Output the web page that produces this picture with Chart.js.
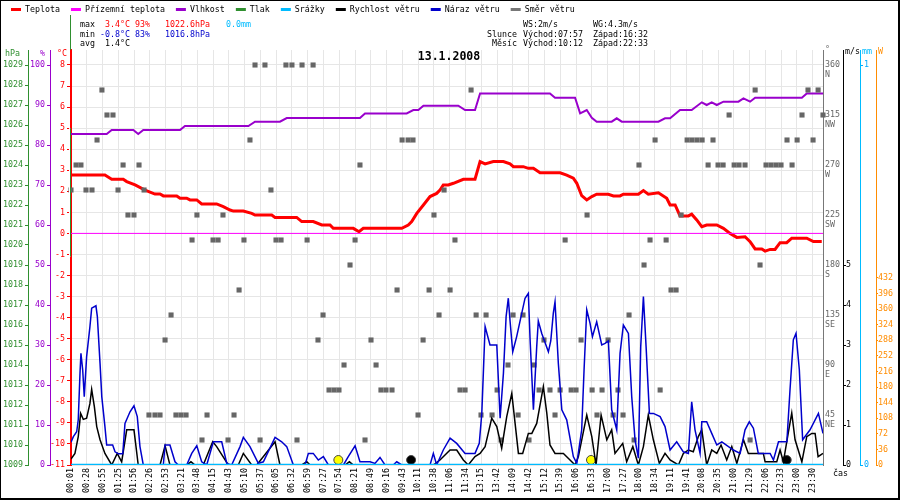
<!DOCTYPE html>
<html>
<head>
<meta charset="utf-8">
<title>13.1.2008</title>
<script src="https://cdn.jsdelivr.net/npm/chart.js@4.4.1/dist/chart.umd.min.js"></script>
<style>
  html, body { margin: 0; padding: 0; background: #fff; }
  canvas { display: block; }
</style>
</head>
<body>
<canvas id="meteo" width="900" height="500"></canvas>
<script>
// ================= DATA =================
// x values are in label slots: 0 = "00:01", 1 = "00:28", ...
const timeLabels = ['00:01','00:28','00:55','01:25','01:56','02:26','02:53','03:21','03:48','04:15','04:43','05:10','05:37','06:05','06:32','06:59','07:27','07:54','08:21','08:49','09:16','09:43','10:11','10:38','11:06','11:34','13:15','13:42','14:09','14:42','15:12','15:39','16:06','16:33','17:00','17:27','18:00','18:34','19:11','19:41','20:08','20:35','21:00','21:29','22:06','22:33','23:00','23:30'];
const lastSlot = 47.65;

// Teplota (°C)
const tempX = [0,2.15,2.58,3.31,3.53,4.06,4.69,5.32,5.64,5.85,6.70,6.91,7.33,7.54,7.97,8.28,9.23,9.65,10.08,10.29,10.92,11.45,11.66,12.72,12.93,14.30,14.62,15.35,15.89,16.41,16.62,17.89,18.25,18.52,20.96,21.37,21.59,21.91,22.33,22.75,23.17,23.38,23.59,23.91,24.23,24.86,25.60,25.92,26.24,26.76,27.40,27.82,28.03,28.66,28.98,29.30,29.72,30.99,31.41,31.83,32.05,32.36,32.68,33.00,33.31,34.05,34.37,34.79,35.00,35.95,36.27,36.58,37.22,37.75,37.96,38.28,38.59,39.12,39.33,39.65,39.97,40.28,40.92,41.34,41.76,42.19,42.71,43.03,43.35,43.77,43.98,44.30,44.61,44.93,45.35,45.67,46.62,47.04,47.57];
const tempY = [2.77,2.77,2.57,2.57,2.46,2.30,2.06,1.87,1.87,1.78,1.78,1.67,1.67,1.59,1.59,1.40,1.40,1.27,1.11,1.06,1.06,0.95,0.87,0.87,0.76,0.76,0.56,0.56,0.40,0.40,0.24,0.24,0.08,0.24,0.24,0.40,0.56,0.95,1.35,1.75,1.90,2.06,2.30,2.30,2.38,2.57,2.57,3.41,3.30,3.41,3.41,3.30,3.17,3.17,3.09,3.09,2.88,2.88,2.77,2.62,2.38,1.79,1.59,1.75,1.86,1.86,1.78,1.78,1.86,1.86,2.03,1.86,1.93,1.67,1.35,1.35,0.83,0.83,0.91,0.64,0.32,0.40,0.40,0.24,0.00,-0.19,-0.16,-0.39,-0.74,-0.74,-0.84,-0.76,-0.76,-0.44,-0.44,-0.23,-0.23,-0.39,-0.39];

// Přízemní teplota (°C)
const groundX = [0, lastSlot];
const groundY = [0, 0];

// Vlhkost (%)
const humX = [0,2.26,2.58,3.95,4.26,4.58,6.91,7.22,11.24,11.66,13.24,13.67,18.31,18.63,21.27,21.69,22.01,22.33,24.54,24.97,25.60,25.92,30.35,30.67,31.94,32.26,32.68,33.00,33.31,34.26,34.58,34.90,37.22,37.64,37.96,38.59,39.33,39.97,40.28,40.60,40.92,41.34,42.29,42.61,43.03,43.35,46.31,46.62,47.65];
const humY = [82.75,82.75,83.75,83.75,82.75,83.75,83.75,84.75,84.75,85.83,85.83,86.75,86.75,87.9,87.9,88.75,88.75,89.83,89.83,88.75,88.75,92.9,92.9,91.83,91.83,87.9,88.75,86.8,85.83,85.83,86.67,85.83,85.83,86.67,86.67,88.75,88.75,90.67,90.0,90.67,90.0,90.83,90.83,91.67,90.83,91.83,91.83,92.9,92.9];

// Srážky (mm)
const rainX = [0, lastSlot];
const rainY = [0, 0];

// Rychlost větru (m/s)
const windX = [0,0.25,0.46,0.61,0.78,0.99,1.20,1.31,1.48,1.63,1.84,2.15,2.58,2.93,3.21,3.53,3.99,4.26,5.64,5.96,6.27,7.33,7.60,7.86,8.38,8.98,9.23,9.97,10.60,10.92,11.45,11.77,12.93,13.24,14.62,14.94,15.15,17.36,17.64,17.89,22.96,23.38,24.02,24.44,24.86,25.17,25.60,25.92,26.24,26.66,26.98,27.29,27.61,27.93,28.14,28.35,28.62,28.98,29.20,29.51,29.93,30.15,30.35,30.67,31.20,31.62,31.94,32.15,32.68,33.00,33.27,33.59,33.95,34.26,34.47,34.96,35.21,35.60,35.95,36.27,36.58,36.90,37.28,37.64,37.96,38.49,38.80,39.12,39.43,39.75,39.97,40.28,40.60,40.92,41.19,41.55,41.87,42.19,42.61,42.92,43.87,43.98,44.72,44.93,45.14,45.46,45.67,45.88,46.31,46.62,46.94,47.15,47.34,47.65];
const windY = [0.15,0.29,0.71,1.29,1.14,1.17,1.54,1.89,1.46,0.96,0.63,0.29,0,0.29,0.08,0.88,0.88,0,0,0.48,0,0,0.08,0,0,0.58,0.46,0,0,0.29,0,0,0.58,0,0,0.08,0,0,0.08,0,0,0.125,0.375,0.375,0.125,0,0.21,0.29,0.46,1.17,0.96,0.42,1.21,1.79,1.04,0.29,0.29,0.79,0.79,1.04,1.96,1.29,0.5,0.29,0.29,0.125,0,0.21,1.25,0.71,0,1.25,0.63,0.88,0.29,0.54,0.08,0.46,0,0.46,1.25,0.63,0.04,0.29,0.125,0,0.29,0.375,0.33,0.71,0.88,0,0.375,0.29,0.5,0.125,0.46,0.04,0.63,0.29,0.29,0.08,0.08,0.375,0.08,0.83,1.3,0.63,0.08,0.71,0.79,0.79,0.21,0.29];

// Náraz větru (m/s)
const gustX = [0,0.15,0.36,0.46,0.57,0.63,0.74,0.84,0.99,1.20,1.31,1.58,1.67,1.84,1.95,2.15,2.26,2.64,2.79,3.00,3.28,3.42,3.74,3.99,4.20,4.37,4.58,5.85,5.96,6.27,6.59,6.80,7.33,7.65,7.97,8.28,8.60,9.02,9.55,9.87,10.18,10.71,10.92,11.34,11.87,12.19,12.93,13.35,13.67,14.09,14.83,15.04,15.35,15.67,15.99,16.31,17.26,17.57,18.00,18.31,18.95,19.26,19.58,19.90,20.42,20.64,20.96,22.75,22.96,23.17,23.59,24.02,24.44,24.97,25.60,25.87,26.03,26.24,26.55,26.98,27.19,27.40,27.57,27.71,27.82,27.99,28.24,28.56,28.77,28.98,29.09,29.30,29.51,29.61,29.83,30.25,30.40,30.56,30.67,30.88,31.10,31.41,31.83,32.05,32.36,32.51,32.68,32.89,33.04,33.31,33.63,33.84,34.05,34.26,34.58,34.79,35.00,35.32,35.53,35.74,35.95,36.10,36.27,36.44,36.65,36.90,37.33,37.64,37.96,38.38,38.80,39.12,39.33,39.54,39.86,39.97,40.28,40.60,40.92,41.24,41.97,42.40,42.71,42.98,43.24,43.55,44.30,44.51,44.83,45.36,45.56,45.77,45.94,46.15,46.36,46.83,47.36,47.65];
const gustY = [0.57,0.71,0.83,1.13,2.29,2.79,2.38,1.71,2.71,3.46,3.92,3.98,3.71,2.54,1.71,0.96,0.5,0.5,0.33,0.28,0.28,1.04,1.33,1.48,1.21,0.46,0,0,0.5,0.5,0.08,0,0,0.29,0.48,0.08,0,0.58,0.58,0.04,0,0.46,0.69,0.46,0.04,0.08,0.69,0.58,0.46,0,0,0.29,0.29,0.125,0.21,0,0,0.21,0.48,0.08,0.08,0.04,0.19,0,0,0.08,0,0,0.29,0,0.375,0.67,0.54,0.29,0.29,0.54,1.29,3.46,3.0,3.0,1.17,2.29,3.71,4.17,3.6,2.83,3.21,3.79,4.17,4.29,3.13,1.38,2.96,3.6,3.29,2.83,3.1,3.79,4.08,2.54,1.38,1.13,0.21,0.04,0.88,2.38,3.88,3.54,3.21,3.58,3.0,3.04,3.1,1.38,0.88,2.79,3.5,3.29,1.71,0.63,0.17,2.96,4.21,2.96,1.29,1.29,1.21,0.96,0.375,0.58,0.33,0.29,1.58,0.88,0.29,1.08,1.08,0.79,0.5,0.58,0.375,0.29,0.88,1.08,0.92,0.29,0.29,0.125,0.58,0.58,1.88,3.13,3.29,2.38,0.63,0.88,1.29,0.79];

// Směr větru (°)
const dirX = [0.00,0.32,0.63,0.95,1.33,1.65,1.96,2.28,2.66,2.98,3.30,3.61,3.99,4.31,4.63,4.94,5.32,5.64,5.96,6.34,6.65,6.97,7.29,7.67,7.98,8.30,8.62,9.00,9.32,9.63,9.95,10.33,10.65,10.96,11.34,11.66,11.98,12.29,12.67,12.99,13.31,13.62,14.00,14.32,14.64,14.96,15.34,15.65,15.97,16.35,16.67,16.98,17.30,17.68,18.00,18.31,18.63,19.01,19.33,19.64,19.96,20.34,20.66,20.98,21.36,21.67,21.99,22.31,22.69,23.00,23.32,23.64,24.02,24.33,24.65,24.97,25.35,25.67,25.98,26.30,26.68,27.00,27.25,27.69,28.01,28.33,28.64,29.02,29.34,29.66,29.97,30.35,30.67,30.99,31.31,31.69,32.00,32.32,32.70,33.02,33.33,33.65,34.03,34.35,34.66,34.98,35.36,35.68,35.99,36.31,36.69,37.01,37.33,37.71,38.02,38.34,38.66,39.04,39.35,39.67,39.99,40.37,40.68,41.00,41.32,41.70,42.02,42.33,42.71,43.03,43.35,43.66,44.04,44.36,44.68,44.99,45.37,45.69,46.01,46.32,46.70,47.02,47.34,47.65];
const dirY = [247.5,270,270,247.5,247.5,292.5,337.5,315,315,247.5,270,225,225,270,247.5,45,45,45,112.5,135,45,45,45,202.5,225,22.5,45,202.5,202.5,225,22.5,45,157.5,202.5,292.5,360,22.5,360,247.5,202.5,202.5,360,360,22.5,360,202.5,360,112.5,135,67.5,67.5,67.5,90,180,202.5,270,22.5,112.5,90,67.5,67.5,67.5,157.5,292.5,292.5,292.5,45,112.5,157.5,225,135,247.5,157.5,202.5,67.5,67.5,337.5,135,45,135,45,67.5,22.5,90,135,45,135,22.5,90,67.5,112.5,67.5,45,67.5,202.5,67.5,67.5,112.5,225,67.5,45,67.5,112.5,45,67.5,45,135,22.5,270,180,202.5,292.5,67.5,202.5,157.5,157.5,225,292.5,292.5,292.5,292.5,270,292.5,270,270,315,270,270,270,22.5,337.5,180,270,270,270,270,292.5,270,292.5,315,337.5,292.5,337.5,315];

// sunrise / moonrise / sunset / moonset markers
const eventX = [16.94, 21.55, 32.95, 45.35];
const eventY = [0.125, 0.125, 0.125, 0.125];
const eventColors = ['#ffff00', '#000000', '#ffff00', '#000000'];

const compassValues = [45, 90, 135, 180, 225, 270, 315, 360];
const compassNames = ['NE', 'E', 'SE', 'S', 'SW', 'W', 'NW', 'N'];

const legendLabels = ['Teplota', 'Přízemní teplota', 'Vlhkost', 'Tlak', 'Srážky', 'Rychlost větru', 'Náraz větru', 'Směr větru'];
const legendColors = ['#ff0000', '#ff00ff', '#9900cc', '#2f8f2f', '#00bbff', '#000000', '#0000cc', '#777777'];

// ================= STYLE =================
const FAMILY = '"DejaVu Sans Mono", "Liberation Mono", monospace';
const SMALL = '8.3px ' + FAMILY;
const GRID = '#e6e6e6';

Chart.defaults.font.family = FAMILY;
Chart.defaults.font.size = 8.3;
Chart.defaults.color = '#000';

function pts(xs, ys) {
    return xs.map((x, i) => ({ x, y: ys[i] }));
}

function fixWidth(w) {
    return s => { s.width = w; };
}

function sideAxis(position, weight, width, min, max, step, color, opts = {}) {
    return {
        type: 'linear',
        position,
        weight,
        min,
        max,
        afterFit: fixWidth(width),
        ticks: Object.assign({
            stepSize: step,
            includeBounds: false,
            color,
            padding: 1,
            font: { size: 8.3 },
            callback: v => String(v)
        }, opts.ticks || {}),
        grid: Object.assign({
            drawOnChartArea: false,
            drawTicks: true,
            tickLength: 3,
            tickColor: color
        }, opts.grid || {}),
        border: { display: true, color: opts.borderColor || color, width: opts.borderWidth || 1 }
    };
}

// ================= DECORATION (legend, header, axis units) =================
function put(ctx, text, x, y, color, align) {
    ctx.fillStyle = color;
    ctx.textAlign = align || 'left';
    ctx.fillText(text, x, y);
}

const decorPlugin = {
    id: 'decor',
    afterDraw(chart) {
        const { ctx, chartArea: area, scales } = chart;
        ctx.save();
        ctx.font = SMALL;
        ctx.textBaseline = 'middle';

        // legend
        let lx = 11;
        legendLabels.forEach((label, i) => {
            ctx.fillStyle = legendColors[i];
            ctx.fillRect(lx, 8, 10, 3);
            put(ctx, label, lx + 14, 9.5, '#000');
            lx += 14 + ctx.measureText(label).width + 11;
        });

        // statistics
        put(ctx, 'max', 80, 25, '#000');
        put(ctx, '3.4°C', 105, 25, '#ff0000');
        put(ctx, '93%', 135, 25, '#ff0000');
        put(ctx, '1022.6hPa', 165, 25, '#ff0000');
        put(ctx, '0.0mm', 226, 25, '#00bbff');
        put(ctx, 'min', 80, 34.5, '#000');
        put(ctx, '-0.8°C', 100, 34.5, '#0000cc');
        put(ctx, '83%', 135, 34.5, '#0000cc');
        put(ctx, '1016.8hPa', 165, 34.5, '#0000cc');
        put(ctx, 'avg', 80, 44, '#000');
        put(ctx, '1.4°C', 105, 44, '#000');

        put(ctx, 'WS:2m/s', 523, 25, '#000');
        put(ctx, 'WG:4.3m/s', 593, 25, '#000');
        put(ctx, 'Slunce', 517, 34.5, '#000', 'right');
        put(ctx, 'Východ:07:57', 523, 34.5, '#000');
        put(ctx, 'Západ:16:32', 593, 34.5, '#000');
        put(ctx, 'Měsíc', 517, 44, '#000', 'right');
        put(ctx, 'Východ:10:12', 523, 44, '#000');
        put(ctx, 'Západ:22:33', 593, 44, '#000');

        // axis units
        put(ctx, 'hPa', 5, 54, '#2f8f2f');
        put(ctx, '%', 40, 54, '#9900cc');
        put(ctx, '°C', 57, 54, '#ff0000');
        put(ctx, '°', scales.yD.left + 2, 50, '#666');
        put(ctx, 'm/s', scales.yW.left + 2, 52, '#000');
        put(ctx, 'mm', scales.yR.left + 2, 52, '#00bbff');
        put(ctx, 'W', scales.yS.left + 2, 52, '#ff8c00');
        put(ctx, 'čas', 833, 474, '#000');

        // left edge of the plot: green up into the header and in the middle
        ctx.fillStyle = '#2f8f2f';
        ctx.fillRect(area.left - 1, 15, 1, area.top - 15);
        const g1 = scales.yT.getPixelForValue(5);
        const g2 = scales.yT.getPixelForValue(-1.1);
        ctx.fillStyle = '#fff';
        ctx.fillRect(area.left - 2, g1, 2, g2 - g1);
        ctx.fillStyle = '#2f8f2f';
        ctx.fillRect(area.left - 1, g1, 1, g2 - g1);

        // title
        ctx.font = 'bold 11.5px ' + FAMILY;
        put(ctx, '13.1.2008', 449, 57, '#000', 'center');

        // frame
        ctx.fillStyle = '#000';
        ctx.fillRect(0, 0, 900, 1);
        ctx.fillRect(0, 0, 1, 500);
        ctx.fillRect(898, 0, 2, 500);
        ctx.fillRect(0, 498, 900, 2);
        ctx.restore();
    }
};

// ================= CHART =================
const ctx = document.getElementById('meteo').getContext('2d');

new Chart(ctx, {
    type: 'line',
    data: {
        datasets: [
            { label: 'Srážky', data: pts(rainX, rainY), yAxisID: 'yR', borderColor: '#00bbff', borderWidth: 2.5, pointRadius: 0 },
            { label: 'Náraz větru', data: pts(gustX, gustY), yAxisID: 'yW', borderColor: '#0000cc', borderWidth: 1.5, pointRadius: 0 },
            { label: 'Rychlost větru', data: pts(windX, windY), yAxisID: 'yW', borderColor: '#000000', borderWidth: 1.5, pointRadius: 0 },
            { label: 'Směr větru', data: pts(dirX, dirY), yAxisID: 'yD', showLine: false, pointStyle: 'rect', pointRadius: 3.6, pointBackgroundColor: '#666666', pointBorderWidth: 0, clip: false },
            { label: 'Přízemní teplota', data: pts(groundX, groundY), yAxisID: 'yT', borderColor: '#ff00ff', borderWidth: 1, pointRadius: 0 },
            { label: 'Vlhkost', data: pts(humX, humY), yAxisID: 'yH', borderColor: '#9900cc', borderWidth: 2, pointRadius: 0 },
            { label: 'Teplota', data: pts(tempX, tempY), yAxisID: 'yT', borderColor: '#ff0000', borderWidth: 3, pointRadius: 0 },
            { label: 'Slunce / Měsíc', data: pts(eventX, eventY), yAxisID: 'yW', showLine: false, pointRadius: 4.5, pointBackgroundColor: eventColors, pointBorderColor: '#444', pointBorderWidth: 1, clip: false }
        ]
    },
    options: {
        responsive: false,
        devicePixelRatio: 1,
        animation: false,
        events: [],
        layout: { padding: { top: 50, left: 0, right: 0, bottom: 0 } },
        elements: { line: { tension: 0 } },
        plugins: { legend: { display: false }, tooltip: { enabled: false } },
        scales: {
            x: {
                type: 'linear',
                position: 'bottom',
                min: 0,
                max: lastSlot,
                afterFit: s => { s.height = 35; },
                ticks: {
                    stepSize: 1,
                    includeBounds: false,
                    autoSkip: false,
                    minRotation: 90,
                    maxRotation: 90,
                    padding: 3,
                    color: '#000',
                    font: { size: 8.3 },
                    callback: v => timeLabels[v] ?? ''
                },
                grid: { color: GRID, drawTicks: false },
                border: { display: false }
            },
            yT: sideAxis('left', 0, 21, -11, 8.71, 1, '#ff0000', {
                ticks: { padding: 2 },
                grid: { drawOnChartArea: true, color: GRID, tickLength: 4 },
                borderWidth: 2
            }),
            yH: sideAxis('left', 1, 22, 0, 103.75, 10, '#9900cc', { ticks: { padding: 2 } }),
            yP: sideAxis('left', 2, 28, 1009, 1029.75, 1, '#2f8f2f', { ticks: { padding: 2 } }),
            yD: sideAxis('right', 0, 20, 0, 373.5, 45, '#666666', {
                ticks: {
                    padding: 2,
                    labelOffset: 5,
                    callback: v => {
                        const i = compassValues.indexOf(v);
                        return i < 0 ? null : [String(v), compassNames[i]];
                    }
                },
                grid: { drawTicks: false },
                borderColor: '#777777'
            }),
            yW: sideAxis('right', 1, 17, 0, 10.375, 1, '#000000', {
                ticks: { padding: 0, callback: v => (v <= 5 ? String(v) : null) }
            }),
            yR: sideAxis('right', 2, 16, 0, 1.0375, 1, '#00aaff', { borderColor: '#00bbff' }),
            yS: sideAxis('right', 3, 24, 0, 958.7, 36, '#ff8c00', {
                ticks: { padding: 0, callback: v => (v <= 432 ? String(v) : null) },
                grid: { tickLength: 2 }
            })
        }
    },
    plugins: [decorPlugin]
});
</script>
</body>
</html>
